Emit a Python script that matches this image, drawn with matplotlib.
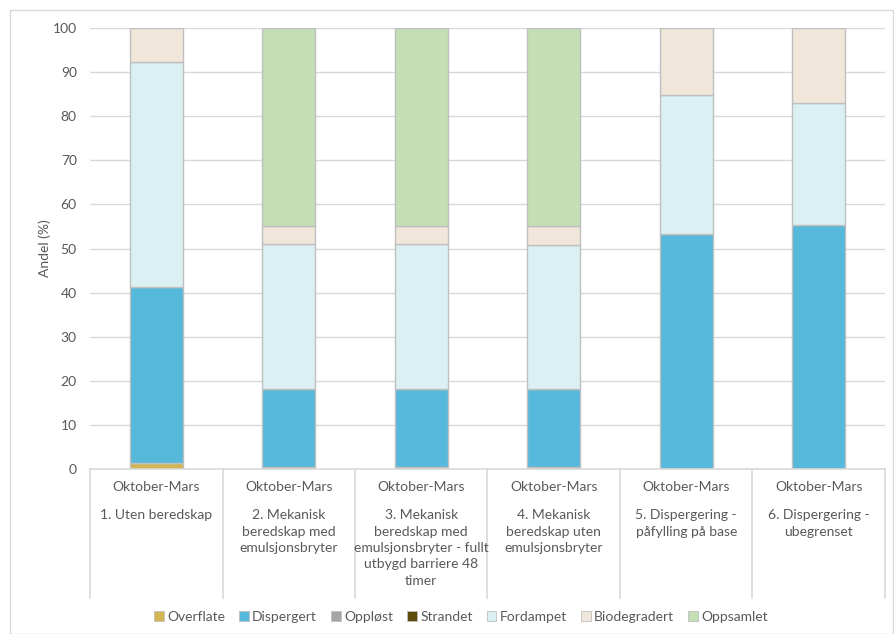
import matplotlib
matplotlib.use("Agg")
import matplotlib.pyplot as plt
from matplotlib.patches import Rectangle
import numpy as np

plt.rcParams['font.family'] = ['Lato', 'DejaVu Sans']

periods = ["Oktober-Mars"] * 6
scenarios = [
    "1. Uten beredskap",
    "2. Mekanisk\nberedskap med\nemulsjonsbryter",
    "3. Mekanisk\nberedskap med\nemulsjonsbryter - fullt\nutbygd barriere 48\ntimer",
    "4. Mekanisk\nberedskap uten\nemulsjonsbryter",
    "5. Dispergering -\npåfylling på base",
    "6. Dispergering -\nubegrenset",
]

overflate = [1.3, 0.5, 0.5, 0.5, 0.0, 0.0]
dispergert = [40.0, 17.75, 17.75, 17.6, 53.3, 55.3]
oppløst = [0.0, 0.0, 0.0, 0.0, 0.0, 0.0]
strandet = [0.0, 0.0, 0.0, 0.0, 0.0, 0.0]
fordampet = [51.0, 32.85, 32.85, 32.7, 31.6, 27.7]
biodegradert = [7.7, 4.1, 4.1, 4.2, 15.1, 17.0]
oppsamlet = [0.0, 44.8, 44.8, 45.0, 0.0, 0.0]

series = [
    ("Overflate", overflate, "#D4B553"),
    ("Dispergert", dispergert, "#56B8DA"),
    ("Oppløst", oppløst, "#A5A5A5"),
    ("Strandet", strandet, "#5E4A0A"),
    ("Fordampet", fordampet, "#DBF0F3"),
    ("Biodegradert", biodegradert, "#F0E6DA"),
    ("Oppsamlet", oppsamlet, "#C5DFB4"),
]

W, H = 895, 634
fig = plt.figure(figsize=(W / 100, H / 100), dpi=100)
text_col = "#595959"
grid_col = "#D9D9D9"
fs = 10

# outer chart frame
fig.add_artist(Rectangle((10 / W, 0.5 / H), (893 - 10) / W, (624 - 0.5) / H,
                         transform=fig.transFigure, fill=False,
                         edgecolor=grid_col, linewidth=1))

left, right, top, bottom = 90, 885, 28, 469
ax = fig.add_axes([left / W, 1 - bottom / H, (right - left) / W, (bottom - top) / H])

x = np.arange(len(scenarios))
base = np.zeros(len(scenarios))
handles = []
for name, vals, col in series:
    vals = np.array(vals)
    edges = ["#BFBFBF" if v > 0 else "none" for v in vals]
    ax.bar(x, vals, width=0.4, bottom=base, color=col,
           edgecolor=edges, linewidth=1.0, label=name, zorder=3)
    base += vals
    handles.append(Rectangle((0, 0), 1, 1, facecolor=col, edgecolor="#BFBFBF", linewidth=0.6))

ax.set_xlim(-0.5, len(scenarios) - 0.5)
ax.set_ylim(0, 100)
ax.set_yticks(np.arange(0, 101, 10))
ax.tick_params(axis='y', length=0, labelsize=fs, labelcolor=text_col, pad=9.5)
ax.set_xticks([])
ax.yaxis.grid(True, color=grid_col, linewidth=1, zorder=0)
for s in ax.spines.values():
    s.set_visible(False)
ax.set_ylabel("Andel (%)", fontsize=fs, color=text_col, labelpad=1)

# category table below the bars
tr = ax.get_xaxis_transform()
px = 1 / (bottom - top)
ax.plot([-0.5, len(scenarios) - 0.5], [0, 0], color=grid_col, lw=1.2,
        transform=tr, clip_on=False, zorder=4)
for b in np.arange(-0.5, len(scenarios), 1.0):
    ax.plot([b, b], [0, -(598 - bottom) * px], color=grid_col, lw=1.2,
            transform=tr, clip_on=False)
for i in x:
    ax.text(i, -(481 - bottom) * px, periods[i], transform=tr, ha='center', va='top',
            fontsize=fs, color=text_col)
    ax.text(i, -(509 - bottom) * px, scenarios[i], transform=tr, ha='center', va='top',
            fontsize=fs, color=text_col, linespacing=1.45)

fig.legend(handles, [s[0] for s in series], loc='center', bbox_to_anchor=(0.515, 1 - 617 / H),
           ncol=7, frameon=False, fontsize=fs, labelcolor=text_col,
           handlelength=0.7, handleheight=0.7, handletextpad=0.25, columnspacing=1.0)

fig.savefig("out.png", dpi=100)
